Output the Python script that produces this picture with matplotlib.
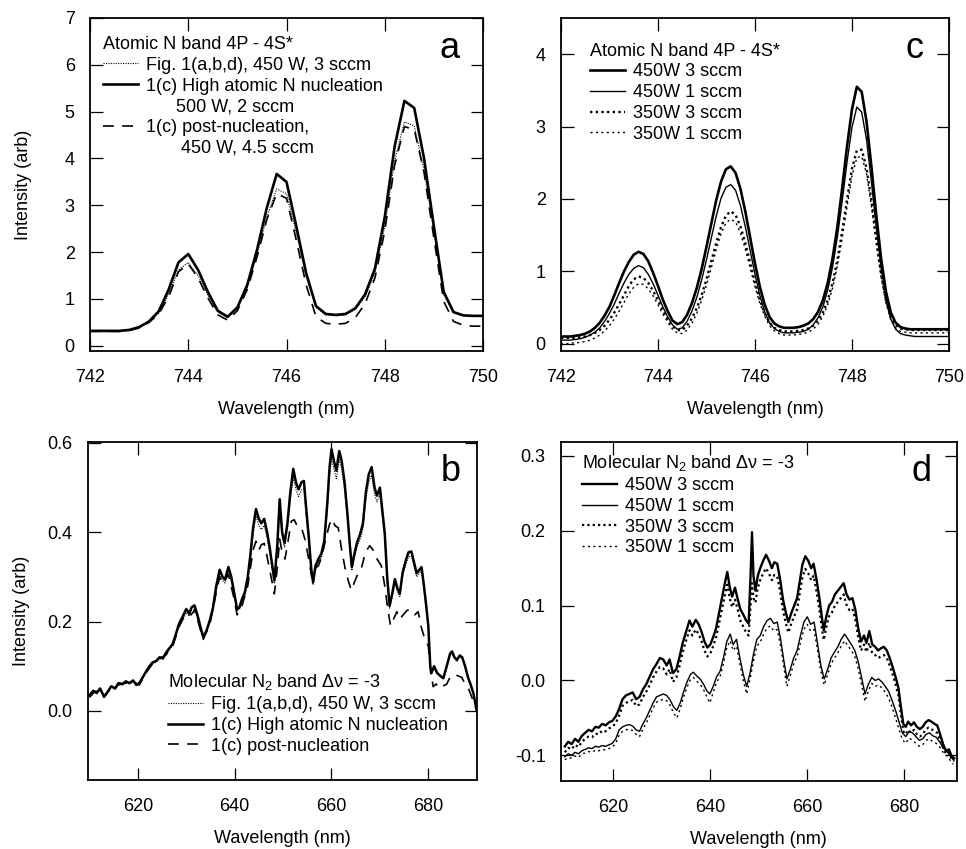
import numpy as np
import matplotlib
matplotlib.use("Agg")
import matplotlib.pyplot as plt
from matplotlib.lines import Line2D
from matplotlib.ticker import FormatStrFormatter

plt.rcParams["font.family"] = ["Liberation Sans", "DejaVu Sans"]
plt.rcParams["mathtext.fontset"] = "custom"
plt.rcParams["mathtext.rm"] = "Liberation Sans"
plt.rcParams["mathtext.it"] = "Liberation Sans:italic"
plt.rcParams["font.size"] = 13
plt.rcParams["axes.unicode_minus"] = False

# ---------------- panel a: atomic N band, 0.2 nm steps ----------------
wl_a = np.linspace(742, 750, 41)
a_fig1 = [0.30, 0.30, 0.30, 0.30, 0.33, 0.38, 0.52, 0.70, 1.10, 1.62,
          1.78, 1.50, 1.08, 0.72, 0.60, 0.80, 1.25, 1.95, 2.75, 3.35,
          3.25, 2.40, 1.50, 0.82, 0.66, 0.64, 0.66, 0.78, 1.05, 1.55,
          2.55, 3.95, 4.78, 4.70, 3.75, 2.45, 1.10, 0.70, 0.64, 0.63, 0.63]
a_high = [0.32, 0.32, 0.32, 0.32, 0.34, 0.40, 0.52, 0.74, 1.20, 1.78,
          1.96, 1.62, 1.15, 0.75, 0.62, 0.82, 1.30, 2.05, 2.95, 3.67,
          3.50, 2.55, 1.55, 0.85, 0.68, 0.66, 0.68, 0.80, 1.10, 1.65,
          2.75, 4.25, 5.23, 5.08, 4.00, 2.55, 1.15, 0.72, 0.65, 0.64, 0.64]
a_post = [0.31, 0.31, 0.31, 0.31, 0.33, 0.38, 0.50, 0.68, 1.05, 1.58,
          1.75, 1.45, 1.02, 0.66, 0.55, 0.75, 1.20, 1.90, 2.70, 3.25,
          3.15, 2.25, 1.30, 0.62, 0.48, 0.46, 0.48, 0.60, 0.90, 1.45,
          2.45, 3.85, 4.68, 4.62, 3.70, 2.30, 0.95, 0.52, 0.44, 0.42, 0.42]

# ---------------- panel c: atomic N band, 0.1 nm steps ----------------
wl_c = np.linspace(742, 750, 81)
c_450_3 = [0.10, 0.10, 0.10, 0.11, 0.12, 0.14, 0.17, 0.22, 0.29, 0.39,
           0.51, 0.67, 0.84, 1.00, 1.13, 1.23, 1.27, 1.24, 1.14, 0.98,
           0.80, 0.61, 0.45, 0.32, 0.27, 0.30, 0.40, 0.56, 0.77, 1.03,
           1.34, 1.66, 1.98, 2.24, 2.41, 2.45, 2.36, 2.14, 1.83, 1.47,
           1.11, 0.79, 0.54, 0.37, 0.28, 0.24, 0.22, 0.22, 0.22, 0.23,
           0.25, 0.28, 0.34, 0.44, 0.60, 0.84, 1.18, 1.62, 2.16, 2.74,
           3.24, 3.55, 3.48, 3.07, 2.45, 1.78, 1.18, 0.72, 0.43, 0.29,
           0.23, 0.21, 0.20, 0.20, 0.20, 0.20, 0.20, 0.20, 0.20, 0.20, 0.20]
c_450_1 = [0.05, 0.05, 0.05, 0.06, 0.07, 0.09, 0.12, 0.16, 0.22, 0.31,
           0.42, 0.55, 0.70, 0.84, 0.96, 1.04, 1.08, 1.05, 0.96, 0.83,
           0.67, 0.51, 0.37, 0.26, 0.20, 0.22, 0.31, 0.45, 0.64, 0.88,
           1.16, 1.46, 1.76, 2.01, 2.16, 2.20, 2.12, 1.91, 1.62, 1.29,
           0.96, 0.67, 0.44, 0.29, 0.21, 0.17, 0.15, 0.15, 0.15, 0.16,
           0.17, 0.20, 0.26, 0.36, 0.51, 0.74, 1.06, 1.48, 1.98, 2.52,
           2.99, 3.27, 3.20, 2.82, 2.24, 1.61, 1.05, 0.62, 0.34, 0.20,
           0.14, 0.12, 0.11, 0.10, 0.10, 0.10, 0.10, 0.10, 0.10, 0.10, 0.10]
c_350_3 = [0.08, 0.08, 0.08, 0.08, 0.09, 0.10, 0.12, 0.15, 0.19, 0.25,
           0.33, 0.43, 0.55, 0.67, 0.80, 0.89, 0.93, 0.91, 0.84, 0.73,
           0.60, 0.46, 0.34, 0.24, 0.19, 0.19, 0.25, 0.35, 0.49, 0.67,
           0.89, 1.14, 1.39, 1.61, 1.77, 1.83, 1.78, 1.62, 1.39, 1.12,
           0.85, 0.61, 0.42, 0.29, 0.22, 0.19, 0.17, 0.17, 0.17, 0.18,
           0.19, 0.21, 0.25, 0.32, 0.43, 0.60, 0.84, 1.16, 1.56, 2.00,
           2.42, 2.67, 2.68, 2.43, 1.98, 1.45, 0.97, 0.60, 0.37, 0.26,
           0.21, 0.20, 0.19, 0.19, 0.19, 0.19, 0.19, 0.19, 0.19, 0.19, 0.19]
c_350_1 = [0.00, 0.00, 0.01, 0.01, 0.02, 0.03, 0.05, 0.08, 0.12, 0.18,
           0.25, 0.34, 0.45, 0.57, 0.69, 0.78, 0.83, 0.82, 0.76, 0.66,
           0.54, 0.41, 0.30, 0.20, 0.15, 0.14, 0.19, 0.28, 0.42, 0.60,
           0.81, 1.05, 1.30, 1.52, 1.67, 1.72, 1.68, 1.53, 1.31, 1.05,
           0.79, 0.56, 0.38, 0.25, 0.18, 0.14, 0.12, 0.12, 0.12, 0.13,
           0.14, 0.16, 0.20, 0.27, 0.38, 0.54, 0.77, 1.08, 1.47, 1.90,
           2.32, 2.57, 2.59, 2.35, 1.91, 1.39, 0.92, 0.56, 0.33, 0.22,
           0.17, 0.16, 0.15, 0.15, 0.15, 0.15, 0.15, 0.15, 0.15, 0.15, 0.15]

# ---------------- panel b: molecular N2 band ----------------
wl_b = [610.0, 610.8, 611.5, 612.2, 613.0, 613.6, 614.5, 615.3, 616.0, 616.8,
        617.5, 618.3, 619.0, 619.7, 620.3, 621.0, 621.7, 622.4, 623.0, 623.8,
        624.5, 625.2, 625.8, 626.5, 627.2, 627.8, 628.5, 629.2, 630.0, 630.6,
        631.1, 631.7, 632.3, 633.0, 633.5, 634.2, 634.9, 635.5, 636.2, 636.9,
        637.5, 638.0, 638.7, 639.3, 639.8, 640.5, 641.0, 641.5, 642.1, 642.7,
        643.2, 643.8, 644.4, 645.0, 645.5, 646.1, 646.7, 647.2, 647.7, 648.2,
        648.8, 649.3, 649.8, 650.3, 650.9, 651.5, 652.1, 652.7, 653.2, 653.8,
        654.3, 654.8, 655.3, 655.8, 656.2, 656.7, 657.3, 657.9, 658.5, 659.1,
        659.6, 660.0, 660.5, 661.0, 661.6, 662.1, 662.7, 663.3, 663.8, 664.2,
        664.7, 665.3, 665.9, 666.5, 667.1, 667.7, 668.3, 668.9, 669.4, 670.0,
        670.5, 671.0, 671.5, 672.0, 672.5, 673.1, 673.6, 674.1, 674.7, 675.3,
        675.9, 676.5, 677.0, 677.6, 678.1, 678.6, 679.1, 679.6, 680.0, 680.4,
        680.6, 681.2, 681.8, 682.5, 683.1, 683.8, 684.5, 684.9, 685.4, 685.9,
        686.5, 687.0, 687.6, 688.2, 688.7, 689.3, 690.0]
b_high = [0.035, 0.045, 0.040, 0.050, 0.032, 0.040, 0.055, 0.050, 0.062, 0.060,
          0.066, 0.062, 0.068, 0.058, 0.062, 0.075, 0.088, 0.100, 0.108, 0.112,
          0.120, 0.118, 0.130, 0.140, 0.150, 0.170, 0.195, 0.210, 0.228, 0.218,
          0.232, 0.236, 0.215, 0.185, 0.165, 0.180, 0.204, 0.230, 0.280, 0.316,
          0.300, 0.294, 0.322, 0.300, 0.270, 0.228, 0.232, 0.250, 0.265, 0.300,
          0.345, 0.410, 0.452, 0.430, 0.420, 0.430, 0.400, 0.368, 0.330, 0.292,
          0.370, 0.474, 0.400, 0.376, 0.420, 0.490, 0.542, 0.510, 0.496, 0.512,
          0.515, 0.450, 0.390, 0.320, 0.288, 0.325, 0.340, 0.352, 0.380, 0.460,
          0.545, 0.586, 0.560, 0.538, 0.582, 0.560, 0.512, 0.440, 0.370, 0.322,
          0.350, 0.378, 0.395, 0.420, 0.490, 0.530, 0.546, 0.500, 0.482, 0.500,
          0.450, 0.398, 0.300, 0.235, 0.260, 0.295, 0.275, 0.262, 0.310, 0.335,
          0.355, 0.357, 0.335, 0.308, 0.315, 0.322, 0.280, 0.232, 0.190, 0.100,
          0.084, 0.100, 0.085, 0.078, 0.073, 0.100, 0.128, 0.133, 0.120, 0.114,
          0.124, 0.120, 0.100, 0.075, 0.060, 0.040, 0.000]
b_fig1 = [0.033, 0.043, 0.038, 0.048, 0.030, 0.038, 0.053, 0.048, 0.060, 0.058,
          0.064, 0.060, 0.066, 0.056, 0.060, 0.073, 0.086, 0.097, 0.105, 0.109,
          0.117, 0.115, 0.127, 0.137, 0.146, 0.165, 0.190, 0.204, 0.220, 0.212,
          0.225, 0.228, 0.208, 0.180, 0.162, 0.176, 0.198, 0.223, 0.270, 0.305,
          0.292, 0.286, 0.312, 0.292, 0.263, 0.224, 0.228, 0.245, 0.258, 0.292,
          0.334, 0.396, 0.436, 0.415, 0.406, 0.415, 0.388, 0.357, 0.322, 0.285,
          0.360, 0.458, 0.390, 0.366, 0.408, 0.474, 0.522, 0.494, 0.480, 0.495,
          0.498, 0.436, 0.378, 0.312, 0.282, 0.318, 0.332, 0.343, 0.370, 0.446,
          0.527, 0.566, 0.542, 0.520, 0.562, 0.542, 0.496, 0.428, 0.360, 0.314,
          0.342, 0.368, 0.384, 0.408, 0.474, 0.513, 0.528, 0.485, 0.468, 0.485,
          0.437, 0.388, 0.292, 0.230, 0.254, 0.288, 0.268, 0.256, 0.302, 0.326,
          0.345, 0.347, 0.326, 0.300, 0.307, 0.314, 0.273, 0.227, 0.186, 0.098,
          0.082, 0.097, 0.083, 0.076, 0.071, 0.097, 0.124, 0.129, 0.117, 0.111,
          0.120, 0.117, 0.097, 0.073, 0.058, 0.038, 0.000]
wl_b_post = [610.0, 611.0, 612.0, 613.0, 614.5, 616.0, 617.5, 619.0, 620.3, 621.7,
             623.0, 624.5, 625.8, 627.2, 628.5, 630.0, 631.0, 631.7, 632.3, 633.5,
             634.9, 636.2, 636.9, 637.5, 638.7, 639.8, 640.5, 641.5, 642.7, 643.8,
             644.4, 645.0, 645.5, 646.1, 646.7, 647.7, 648.2, 648.8, 649.3, 649.8,
             650.4, 651.1, 651.7, 652.3, 653.0, 653.8, 654.5, 655.3, 655.9, 656.5,
             657.3, 658.0, 658.8, 659.6, 660.2, 660.7, 661.4, 662.1, 662.8, 663.5,
             664.1, 664.8, 665.5, 666.2, 667.0, 667.9, 668.6, 669.4, 670.3, 671.0,
             671.6, 672.2, 672.8, 673.5, 674.1, 674.8, 675.6, 676.5, 677.2, 677.9,
             678.6, 679.3, 680.0, 680.5, 681.0, 681.6, 682.3, 683.0, 683.8, 684.5,
             685.3, 686.2, 686.9, 687.6, 688.3, 689.0, 690.0]
b_post = [0.030, 0.042, 0.045, 0.030, 0.052, 0.058, 0.062, 0.065, 0.058, 0.085,
          0.105, 0.117, 0.125, 0.145, 0.188, 0.220, 0.215, 0.225, 0.205, 0.160,
          0.195, 0.265, 0.300, 0.285, 0.305, 0.255, 0.215, 0.235, 0.280, 0.360,
          0.380, 0.360, 0.372, 0.375, 0.345, 0.290, 0.262, 0.320, 0.385, 0.355,
          0.340, 0.385, 0.425, 0.428, 0.412, 0.410, 0.385, 0.340, 0.300, 0.318,
          0.325, 0.345, 0.385, 0.418, 0.430, 0.415, 0.410, 0.360, 0.320, 0.290,
          0.270, 0.290, 0.308, 0.320, 0.355, 0.370, 0.360, 0.340, 0.325, 0.280,
          0.230, 0.190, 0.205, 0.222, 0.205, 0.215, 0.225, 0.226, 0.215, 0.222,
          0.185, 0.160, 0.145, 0.090, 0.054, 0.060, 0.050, 0.055, 0.060, 0.075,
          0.082, 0.078, 0.075, 0.060, 0.050, 0.030, 0.000]

# ---------------- panel d: molecular N2 band, power / flow series ----------------
wl_d3 = [610.0, 610.7, 611.4, 612.1, 612.8, 613.5, 614.2, 614.9, 615.6, 616.3,
         617.0, 617.7, 618.4, 619.1, 619.8, 620.5, 621.2, 621.9, 622.6, 623.3,
         624.0, 624.7, 625.4, 626.1, 626.8, 627.5, 628.2, 628.9, 629.6, 630.3,
         631.0, 631.6, 632.3, 633.0, 633.6, 634.3, 635.0, 635.7, 636.3, 637.0,
         637.6, 638.2, 638.8, 639.4, 640.0, 640.6, 641.2, 641.8, 642.4, 643.0,
         643.5, 644.0, 644.5, 645.1, 645.6, 646.2, 646.8, 647.4, 647.9, 648.3,
         648.6, 648.9, 649.3, 649.8, 650.3, 650.9, 651.5, 652.1, 652.7, 653.2,
         653.8, 654.4, 655.0, 655.6, 656.1, 656.7, 657.3, 657.9, 658.5, 659.0,
         659.6, 660.2, 660.8, 661.3, 661.9, 662.5, 663.0, 663.4, 663.9, 664.5,
         665.1, 665.7, 666.3, 666.9, 667.5, 668.1, 668.7, 669.3, 669.9, 670.5,
         671.1, 671.7, 672.2, 672.8, 673.4, 674.0, 674.6, 675.2, 675.8, 676.4,
         677.0, 677.6, 678.2, 678.8, 679.3, 679.8, 680.3, 680.8, 681.4, 682.0,
         682.6, 683.2, 683.8, 684.4, 685.0, 685.6, 686.2, 686.8, 687.4, 688.0,
         688.6, 689.2, 689.7, 690.3]
d_450_3 = [-0.088, -0.082, -0.085, -0.078, -0.082, -0.074, -0.070, -0.066, -0.068, -0.062,
           -0.063, -0.058, -0.060, -0.056, -0.054, -0.048, -0.038, -0.025, -0.020, -0.018,
           -0.016, -0.025, -0.022, -0.012, -0.005, 0.005, 0.015, 0.022, 0.030, 0.028,
           0.020, 0.028, 0.010, 0.015, 0.030, 0.050, 0.065, 0.080, 0.072, 0.081,
           0.075, 0.065, 0.052, 0.044, 0.048, 0.058, 0.070, 0.090, 0.110, 0.130,
           0.145, 0.125, 0.112, 0.124, 0.110, 0.095, 0.088, 0.080, 0.076, 0.140,
           0.198, 0.140, 0.120, 0.140, 0.150, 0.160, 0.168, 0.160, 0.150, 0.158,
           0.156, 0.135, 0.108, 0.090, 0.078, 0.090, 0.100, 0.110, 0.135, 0.155,
           0.166, 0.160, 0.150, 0.156, 0.135, 0.110, 0.085, 0.067, 0.085, 0.100,
           0.105, 0.115, 0.120, 0.125, 0.130, 0.115, 0.108, 0.110, 0.095, 0.070,
           0.052, 0.060, 0.050, 0.066, 0.048, 0.045, 0.040, 0.043, 0.045, 0.040,
           0.030, 0.018, 0.005, -0.010, -0.035, -0.058, -0.062, -0.055, -0.060, -0.056,
           -0.062, -0.065, -0.062, -0.056, -0.053, -0.055, -0.058, -0.060, -0.072, -0.085,
           -0.094, -0.092, -0.100, -0.104]
d_350_3 = [-0.096, -0.090, -0.092, -0.086, -0.089, -0.082, -0.078, -0.075, -0.076, -0.071,
           -0.072, -0.067, -0.068, -0.064, -0.062, -0.057, -0.047, -0.034, -0.030, -0.028,
           -0.026, -0.034, -0.032, -0.022, -0.015, -0.006, 0.004, 0.012, 0.018, 0.016,
           0.008, 0.015, -0.002, 0.004, 0.018, 0.038, 0.053, 0.067, 0.060, 0.068,
           0.062, 0.052, 0.040, 0.032, 0.036, 0.046, 0.058, 0.076, 0.095, 0.114,
           0.128, 0.110, 0.098, 0.108, 0.096, 0.080, 0.072, 0.064, 0.060, 0.100,
           0.130, 0.110, 0.104, 0.124, 0.134, 0.143, 0.150, 0.143, 0.134, 0.141,
           0.139, 0.119, 0.093, 0.076, 0.064, 0.076, 0.086, 0.095, 0.119, 0.138,
           0.149, 0.143, 0.134, 0.140, 0.119, 0.095, 0.070, 0.054, 0.071, 0.086,
           0.091, 0.100, 0.105, 0.110, 0.115, 0.101, 0.094, 0.096, 0.082, 0.058,
           0.040, 0.048, 0.038, 0.050, 0.036, 0.034, 0.030, 0.032, 0.034, 0.030,
           0.020, 0.008, -0.005, -0.020, -0.045, -0.068, -0.072, -0.066, -0.070, -0.066,
           -0.072, -0.075, -0.072, -0.066, -0.063, -0.065, -0.068, -0.070, -0.080, -0.090,
           -0.098, -0.096, -0.104, -0.108]
wl_d1 = [610.0, 610.7, 611.4, 612.1, 612.8, 613.5, 614.2, 614.9, 615.6, 616.3,
         617.0, 617.7, 618.4, 619.1, 619.8, 620.5, 621.2, 621.9, 622.6, 623.3,
         624.0, 624.7, 625.4, 626.1, 626.8, 627.5, 628.2, 628.9, 629.6, 630.3,
         631.0, 631.7, 632.4, 633.1, 633.8, 634.5, 635.2, 635.9, 636.5, 637.2,
         637.9, 638.6, 639.3, 639.9, 640.6, 641.3, 642.0, 642.7, 643.4, 644.1,
         644.7, 645.4, 646.1, 646.8, 647.5, 648.2, 648.9, 649.6, 650.3, 651.0,
         651.7, 652.4, 653.1, 653.8, 654.5, 655.2, 655.8, 656.5, 657.2, 657.9,
         658.6, 659.3, 660.0, 660.7, 661.4, 662.1, 662.8, 663.5, 664.2, 664.9,
         665.6, 666.3, 667.0, 667.7, 668.4, 669.1, 669.8, 670.5, 671.2, 671.9,
         672.6, 673.3, 674.0, 674.7, 675.4, 676.1, 676.8, 677.5, 678.2, 678.9,
         679.6, 680.3, 681.0, 681.7, 682.4, 683.1, 683.8, 684.5, 685.2, 685.9,
         686.6, 687.3, 688.0, 688.7, 689.4, 690.1]
d_450_1 = [-0.102, -0.098, -0.100, -0.096, -0.098, -0.094, -0.092, -0.090, -0.091, -0.088,
           -0.089, -0.087, -0.088, -0.086, -0.084, -0.078, -0.066, -0.062, -0.060, -0.059,
           -0.061, -0.066, -0.068, -0.058, -0.050, -0.040, -0.030, -0.022, -0.020, -0.018,
           -0.020, -0.026, -0.035, -0.040, -0.030, -0.015, -0.002, 0.008, 0.011, 0.006,
           0.002, -0.005, -0.014, -0.018, -0.008, 0.005, 0.012, 0.030, 0.052, 0.062,
           0.048, 0.055, 0.030, 0.008, -0.008, 0.010, 0.035, 0.055, 0.060, 0.072,
           0.080, 0.083, 0.076, 0.078, 0.055, 0.025, 0.002, 0.015, 0.030, 0.040,
           0.060, 0.078, 0.085, 0.075, 0.078, 0.050, 0.020, 0.002, 0.015, 0.030,
           0.038, 0.045, 0.055, 0.062, 0.055, 0.048, 0.040, 0.025, 0.004, -0.018,
           -0.005, 0.004, 0.000, 0.002, -0.002, -0.008, -0.015, -0.027, -0.040, -0.055,
           -0.070, -0.075, -0.068, -0.070, -0.075, -0.080, -0.078, -0.072, -0.070, -0.074,
           -0.076, -0.082, -0.090, -0.094, -0.100, -0.106]
d_350_1 = [-0.106, -0.103, -0.104, -0.101, -0.103, -0.098, -0.097, -0.095, -0.096, -0.093,
           -0.094, -0.092, -0.093, -0.091, -0.089, -0.084, -0.073, -0.068, -0.066, -0.065,
           -0.067, -0.072, -0.075, -0.065, -0.057, -0.047, -0.037, -0.029, -0.027, -0.025,
           -0.027, -0.033, -0.043, -0.050, -0.038, -0.022, -0.009, 0.001, 0.004, -0.001,
           -0.005, -0.012, -0.022, -0.030, -0.016, -0.002, 0.005, 0.022, 0.044, 0.053,
           0.040, 0.046, 0.022, 0.000, -0.018, 0.002, 0.026, 0.046, 0.051, 0.062,
           0.070, 0.073, 0.066, 0.068, 0.046, 0.016, -0.008, 0.007, 0.022, 0.032,
           0.051, 0.068, 0.075, 0.066, 0.068, 0.041, 0.012, -0.006, 0.008, 0.022,
           0.030, 0.037, 0.046, 0.053, 0.046, 0.040, 0.032, 0.016, -0.006, -0.028,
           -0.014, -0.004, -0.008, -0.006, -0.010, -0.016, -0.024, -0.036, -0.050, -0.065,
           -0.079, -0.084, -0.077, -0.080, -0.084, -0.088, -0.086, -0.080, -0.078, -0.082,
           -0.084, -0.089, -0.096, -0.100, -0.106, -0.112]

power_labels = ["450W 3 sccm", "450W 1 sccm", "350W 3 sccm", "350W 1 sccm"]


def style(ax, xlim, ylim, xticks, yticks, yfmt=None):
    ax.set_xlim(xlim)
    ax.set_ylim(ylim)
    ax.set_xticks(xticks)
    ax.set_yticks(yticks)
    if yfmt:
        ax.yaxis.set_major_formatter(FormatStrFormatter(yfmt))
    ax.tick_params(direction="in", top=True, right=True, length=9, width=0.9,
                   labelsize=13, pad=11)
    ax.tick_params(axis="x", pad=13)
    for s in ax.spines.values():
        s.set_linewidth(1.3)
    ax.set_xlabel("Wavelength (nm)", fontsize=13, labelpad=11)


def add_legend(ax, handles, labels, title, anchor, hl=1.95):
    ax.legend(handles, labels, title=title, loc="upper left", bbox_to_anchor=anchor,
              frameon=False, borderpad=0, borderaxespad=0, handlelength=hl,
              handletextpad=0.45, labelspacing=0.21, alignment="left",
              fontsize=13, title_fontsize=13)


fig = plt.figure(figsize=(9.66, 8.49), dpi=100)
ax_a = fig.add_axes([0.0932, 0.5866, 0.4068, 0.3922])
ax_c = fig.add_axes([0.5807, 0.5866, 0.4017, 0.3922])
ax_b = fig.add_axes([0.0911, 0.0813, 0.4024, 0.3985])
ax_d = fig.add_axes([0.5807, 0.0804, 0.4096, 0.3993])

blank = Line2D([], [], linestyle="none")

# panel a
la1, = ax_a.plot(wl_a, a_fig1, color="black", lw=0.8, dashes=(1, 1.2))
la2, = ax_a.plot(wl_a, a_high, color="black", lw=1.9)
la3, = ax_a.plot(wl_a, a_post, color="black", lw=1.2, dashes=(6.5, 5))
style(ax_a, (742, 750), (-0.11, 7.0), [742, 744, 746, 748, 750], range(8))
ax_a.set_ylabel("Intensity (arb)", fontsize=13)
ax_a.yaxis.set_label_coords(-0.148, 0.5)
add_legend(ax_a, [la1, la2, blank, la3, blank],
           ["Fig. 1(a,b,d), 450 W, 3 sccm", "1(c) High atomic N nucleation",
            "      500 W, 2 sccm", "1(c) post-nucleation,", "       450 W, 4.5 sccm"],
           "Atomic N band 4P - 4S*", (0.033, 0.946))
ax_a.text(0.916, 0.908, "a", transform=ax_a.transAxes, fontsize=26, ha="center", va="center")

# panel c
lc1, = ax_c.plot(wl_c, c_450_3, color="black", lw=1.9)
lc2, = ax_c.plot(wl_c, c_450_1, color="black", lw=1.0)
lc3, = ax_c.plot(wl_c, c_350_3, color="black", lw=1.7, dashes=(1, 1.4))
lc4, = ax_c.plot(wl_c, c_350_1, color="black", lw=1.0, dashes=(1.5, 2.4))
style(ax_c, (742, 750), (-0.1, 4.5), [742, 744, 746, 748, 750], range(5))
add_legend(ax_c, [lc1, lc2, lc3, lc4], power_labels, "Atomic N band 4P - 4S*", (0.075, 0.926))
ax_c.text(0.91, 0.908, "c", transform=ax_c.transAxes, fontsize=26, ha="center", va="center")

# panel b
lb1, = ax_b.plot(wl_b, b_fig1, color="black", lw=0.8, dashes=(1, 1.2))
lb2, = ax_b.plot(wl_b, b_high, color="black", lw=1.8)
lb3, = ax_b.plot(wl_b_post, b_post, color="black", lw=1.2, dashes=(6.5, 5))
style(ax_b, (609.7, 690.0), (-0.155, 0.603), [620, 640, 660, 680], [0.0, 0.2, 0.4, 0.6], "%.1f")
ax_b.set_ylabel("Intensity (arb)", fontsize=13)
ax_b.yaxis.set_label_coords(-0.148, 0.5)
add_legend(ax_b, [lb1, lb2, lb3],
           ["Fig. 1(a,b,d), 450 W, 3 sccm", "1(c) High atomic N nucleation", "1(c) post-nucleation"],
           "Molecular N$_2$ band Δν = -3", (0.205, 0.318))
ax_b.text(0.934, 0.912, "b", transform=ax_b.transAxes, fontsize=26, ha="center", va="center")

# panel d
ld1, = ax_d.plot(wl_d3, d_450_3, color="black", lw=1.7)
ld2, = ax_d.plot(wl_d1, d_450_1, color="black", lw=1.0)
ld3, = ax_d.plot(wl_d3, d_350_3, color="black", lw=1.6, dashes=(1, 1.4))
ld4, = ax_d.plot(wl_d1, d_350_1, color="black", lw=1.0, dashes=(1.5, 2.4))
style(ax_d, (609.2, 690.8), (-0.134, 0.319), [620, 640, 660, 680], [-0.1, 0.0, 0.1, 0.2, 0.3], "%.1f")
add_legend(ax_d, [ld1, ld2, ld3, ld4], power_labels, "Molecular N$_2$ band Δν = -3", (0.053, 0.966))
ax_d.text(0.912, 0.913, "d", transform=ax_d.transAxes, fontsize=26, ha="center", va="center")

fig.savefig("out.png", dpi=100)
